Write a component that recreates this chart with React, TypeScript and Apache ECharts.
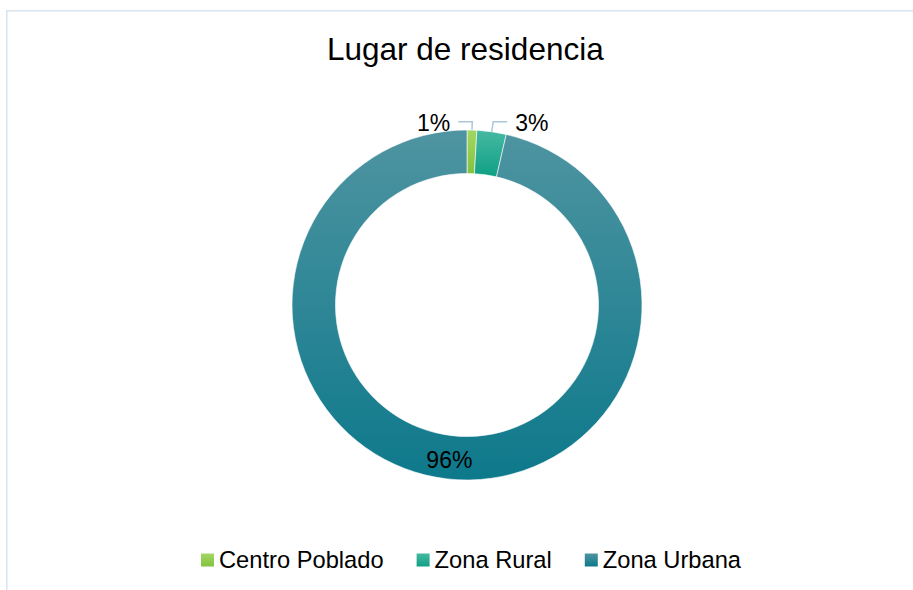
import React, { useEffect, useRef } from "react";
import * as echarts from "echarts";

const TITLE = "Lugar de residencia";
const CATEGORIES = ["Centro Poblado", "Zona Rural", "Zona Urbana"];
const VALUES = [0.9, 2.7, 96.4];
const COLOR_TOP = ["#a3d764", "#46b9a1", "#4f94a1"];
const COLOR_BOTTOM = ["#84c23f", "#0fa085", "#0d798b"];
const LABEL_SIDE = ["left", "right", "inside"];

const W = 913;
const H = 590;
const CX = 467;
const CY = 305;
const R_IN = 131.5;
const R_OUT = 175;
const FONT = "'Liberation Sans', Arial, sans-serif";

export default function App() {
  const ref = useRef<HTMLDivElement>(null);
  useEffect(() => {
    if (!ref.current) return;
    const chart = echarts.init(ref.current, null, { renderer: "svg" });
    const data = CATEGORIES.map((name, i) => {
      const inside = LABEL_SIDE[i] === "inside";
      return {
        name,
        value: VALUES[i],
        itemStyle: {
          color: new echarts.graphic.LinearGradient(0, 0, 0, 1, [
            { offset: 0, color: COLOR_TOP[i] },
            { offset: 1, color: COLOR_BOTTOM[i] },
          ]),
        },
        label: { position: inside ? "inside" : "outside" },
        labelLine: { show: !inside },
      };
    });
    chart.setOption({
      animation: false,
      backgroundColor: "#ffffff",
      title: {
        text: TITLE,
        left: 327,
        top: 33,
        padding: 0,
        textStyle: {
          fontFamily: FONT,
          fontSize: 31.5,
          fontWeight: "normal",
          color: "#000000",
        },
      },
      legend: {
        left: 201,
        top: 548,
        padding: 0,
        itemWidth: 13,
        itemHeight: 13,
        itemGap: 33,
        icon: "rect",
        itemStyle: { borderWidth: 0 },
        textStyle: { fontFamily: FONT, fontSize: 23.7, color: "#000000" },
        data: CATEGORIES,
      },
      graphic: [
        {
          type: "polyline",
          shape: { points: [[6.75, H + 5], [6.75, 10.75], [W + 5, 10.75]] },
          style: { stroke: "#d8e4ee", lineWidth: 1.5, fill: "none" },
          silent: true,
        },
      ],
      series: [
        {
          type: "pie",
          center: [CX, CY],
          radius: [R_IN, R_OUT],
          startAngle: 90,
          clockwise: true,
          avoidLabelOverlap: false,
          itemStyle: { borderColor: "#ffffff", borderWidth: 0.6 },
          label: {
            fontFamily: FONT,
            fontSize: 23,
            color: "#000000",
            formatter: (p: any) => Math.round(p.percent) + "%",
          },
          labelLine: {
            show: true,
            length: 10,
            length2: 12,
            lineStyle: { color: "#a9c7db", width: 1.5 },
          },
          labelLayout: (params: any) => {
            const side = LABEL_SIDE[params.dataIndex];
            if (side === "inside" || !params.labelLinePoints) return {};
            const p0 = params.labelLinePoints[0];
            const vx = (p0[0] - CX) / R_OUT;
            const vy = (p0[1] - CY) / R_OUT;
            const start = [CX + vx * 154, CY + vy * 154];
            const midY = CY - 183.3;
            const mid = [CX + vx * 186, midY];
            const dir = side === "left" ? -1 : 1;
            const end = [mid[0] + dir * 14, midY];
            return {
              x: end[0] + dir * 8,
              y: midY + 1.5,
              align: side === "left" ? "right" : "left",
              verticalAlign: "middle",
              labelLinePoints: [start, mid, end],
            };
          },
          data,
        },
      ],
    });
    return () => chart.dispose();
  }, []);
  return (
    <div
      ref={ref}
      style={{ position: "absolute", left: 0, top: 0, width: W, height: H }}
    />
  );
}
